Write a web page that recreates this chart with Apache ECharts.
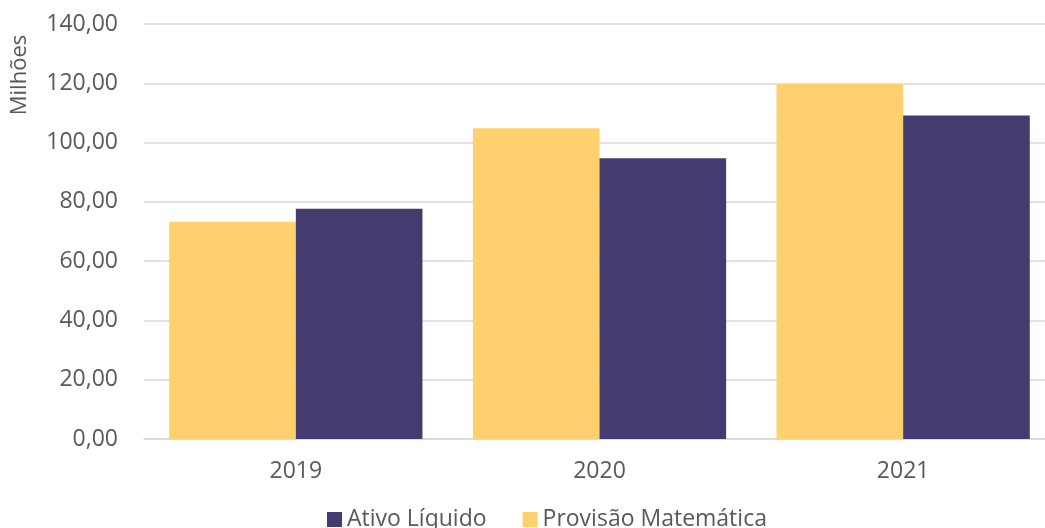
<!DOCTYPE html>
<html><head><meta charset="utf-8">
<script src="https://cdn.jsdelivr.net/npm/echarts@6/dist/echarts.min.js"></script>
<style>html,body{margin:0;padding:0;background:#fff}#c{width:1045px;height:528px}</style>
</head><body><div id="c"></div>
<script>
const categories = ['2019', '2020', '2021'];
const provisao = [73.3, 104.8, 119.8];
const ativo = [77.7, 94.7, 109.1];
const yTicks = [0, 20, 40, 60, 80, 100, 120, 140];
const FONT = '"Open Sans", "Liberation Sans", sans-serif';
const chart = echarts.init(document.getElementById('c'));
chart.setOption({
  animation: false,
  grid: { left: 144, width: 911, top: 24, bottom: 89, outerBoundsMode: 'none', containLabel: false },
  legend: {
    top: 503, left: 322, itemGap: 36, itemWidth: 15, itemHeight: 15,
    icon: 'rect',
    textStyle: { fontFamily: FONT, fontSize: 23, color: '#595959' },
    data: ['Ativo Líquido', 'Provisão Matemática']
  },
  graphic: [{
    type: 'text', x: 20, y: 75, rotation: Math.PI / 2,
    style: { text: 'Milhões', font: '22px ' + FONT, fill: '#595959', align: 'center', verticalAlign: 'middle' }
  }],
  xAxis: {
    type: 'category', data: categories,
    axisLine: { lineStyle: { color: '#D9D9D9', width: 1.5 } },
    axisTick: { show: false },
    axisLabel: { fontFamily: FONT, fontSize: 23, color: '#595959', margin: 21 }
  },
  yAxis: {
    type: 'value', min: yTicks[0], max: yTicks[yTicks.length - 1], interval: 20,
    axisLine: { show: false }, axisTick: { show: false },
    splitLine: { lineStyle: { color: '#D9D9D9', width: 1.5 } },
    axisLabel: {
      fontFamily: FONT, fontSize: 23, color: '#595959', margin: 26,
      formatter: v => v.toFixed(2).replace('.', ',')
    }
  },
  series: [
    { name: 'Provisão Matemática', type: 'bar', data: provisao, barGap: '0%', barCategoryGap: '16.6%',
      itemStyle: { color: '#FED06E' } },
    { name: 'Ativo Líquido', type: 'bar', data: ativo, barGap: '0%', barCategoryGap: '16.6%',
      itemStyle: { color: '#463B6E' } }
  ]
});
</script></body></html>
